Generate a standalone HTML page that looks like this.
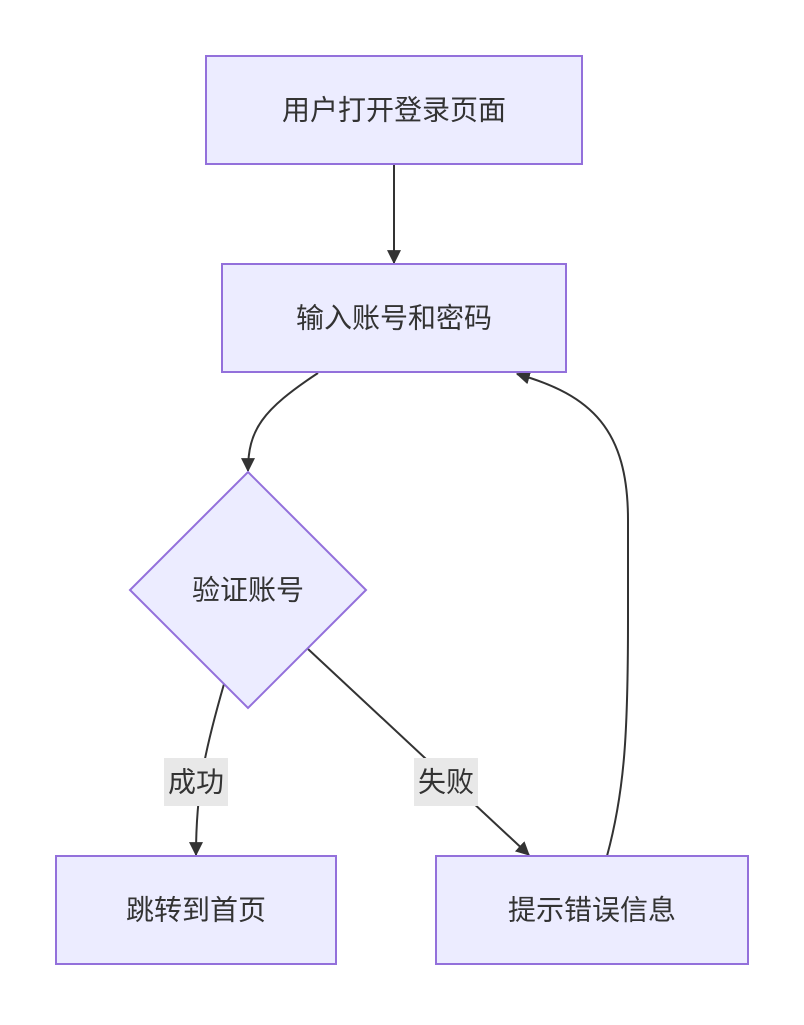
<!DOCTYPE html>
<html><head><meta charset="utf-8"><style>
html,body{margin:0;padding:0;background:#fff;}
text{font-family:"Liberation Sans","Noto Sans CJK SC",sans-serif;font-size:28px;fill:#333;}
</style></head><body>
<svg width="804" height="1020" viewBox="0 0 804 1020" xmlns="http://www.w3.org/2000/svg">
<defs>
<marker id="a" viewBox="0 0 10 10" refX="9" refY="5" markerWidth="8" markerHeight="8" markerUnits="userSpaceOnUse" orient="auto">
<path d="M0,0 L10,5 L0,10 z" fill="#333"/>
</marker>
<marker id="b" viewBox="0 0 12 12" refX="11" refY="6" markerWidth="14" markerHeight="14" markerUnits="userSpaceOnUse" orient="auto">
<path d="M0,0 L12,6 L0,12 z" fill="#333"/>
</marker>
</defs>
<g fill="none" stroke="#333" stroke-width="2">
<path d="M394,164 L394,263" marker-end="url(#b)"/>
<path d="M318,373 C262,410 248,430 248,471" marker-end="url(#b)"/>
<path d="M224,684 C205,750 196,790 196,855" marker-end="url(#b)"/>
<path d="M308,649 L529,855" marker-end="url(#b)"/>
<path d="M607,856 C625,790 628,730 628,620 L628,520 C628,430 592,395 517,374" marker-end="url(#b)"/>
</g>
<g fill="#ECECFF" stroke="#9370DB" stroke-width="2">
<rect x="206" y="56" width="376" height="108"/>
<rect x="222" y="264" width="344" height="108"/>
<polygon points="248,472 366,590 248,708 130,590"/>
<rect x="56" y="856" width="280" height="108"/>
<rect x="436" y="856" width="312" height="108"/>
</g>
<rect x="164" y="758" width="64" height="48" fill="#E8E8E8"/>
<rect x="414" y="758" width="64" height="48" fill="#E8E8E8"/>
<g text-anchor="middle" dominant-baseline="central">
<text x="394" y="110">用户打开登录页面</text>
<text x="394" y="318">输入账号和密码</text>
<text x="248" y="590">验证账号</text>
<text x="196" y="910">跳转到首页</text>
<text x="592" y="910">提示错误信息</text>
<text x="196" y="782">成功</text>
<text x="446" y="782">失败</text>
</g>
</svg>
</body></html>
